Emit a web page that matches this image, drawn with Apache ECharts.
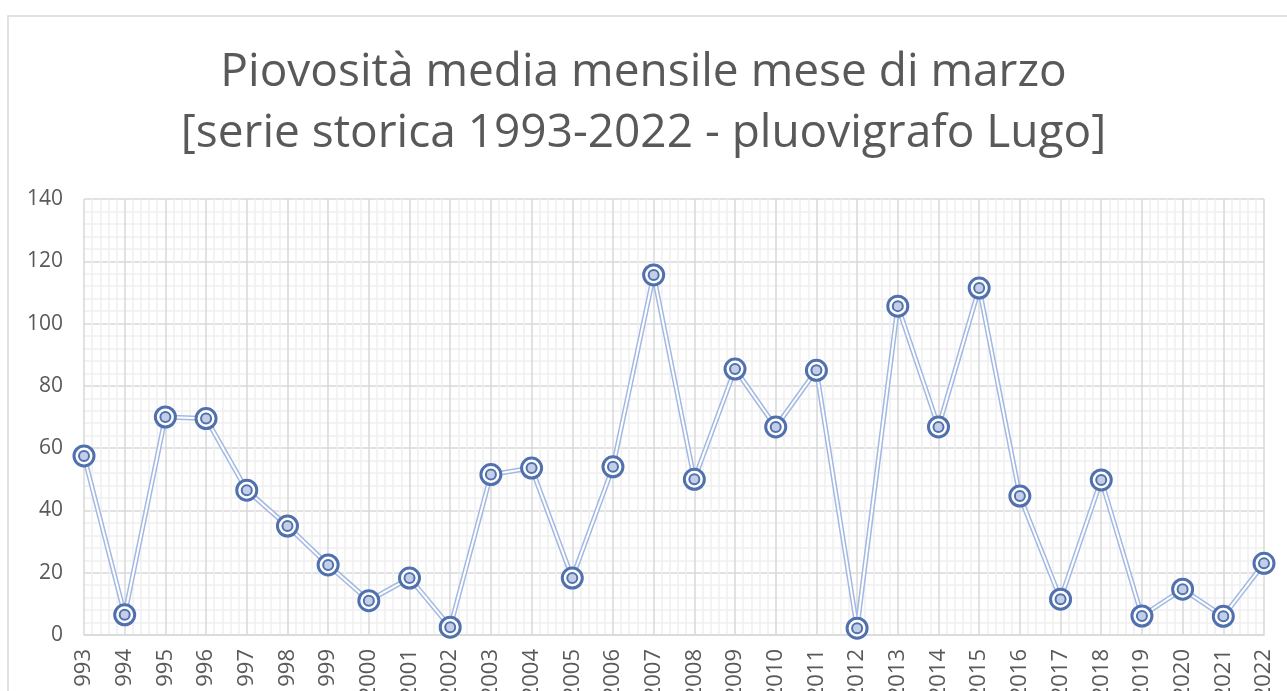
<!DOCTYPE html>
<html>
<head>
<meta charset="utf-8">
<script src="https://cdn.jsdelivr.net/npm/echarts@6/dist/echarts.min.js"></script>
<style>
  html, body { margin: 0; padding: 0; background: #fff; }
  #main { width: 1287px; height: 691px; }
</style>
</head>
<body>
<div id="main"></div>
<script>
// anni della serie storica
const years = ['1993', '1994', '1995', '1996', '1997', '1998', '1999', '2000', '2001', '2002',
  '2003', '2004', '2005', '2006', '2007', '2008', '2009', '2010', '2011', '2012',
  '2013', '2014', '2015', '2016', '2017', '2018', '2019', '2020', '2021', '2022']
// piovosità di marzo (mm)
const rain = [57.5, 6.5, 70, 69.5, 46.5, 35, 22.5, 11, 18.3, 2.5,
  51.5, 53.6, 18.3, 54, 115.6, 50, 85.4, 66.8, 85, 2.2,
  105.6, 66.8, 111.4, 44.6, 11.5, 49.8, 6.1, 14.7, 6, 23]
const titleLines = ['Piovosità media mensile mese di marzo', '[serie storica 1993-2022 - pluovigrafo Lugo]']

const myChart = echarts.init(document.querySelector('#main'))

const grey = '#595959'
const font = '"Open Sans", "Noto Sans", sans-serif'

myChart.setOption({
  animation: false,
  // cornice esterna
  graphic: [
    {
      type: 'rect',
      shape: { x: 8, y: 16, width: 1300, height: 700 },
      style: { fill: 'none', stroke: '#d9d9d9', lineWidth: 1.5 }
    }
  ],
  title: {
    text: titleLines.join('\n'),
    left: 'center',
    top: 37,
    textStyle: {
      fontFamily: font,
      fontWeight: 'normal',
      fontSize: 46,
      lineHeight: 61,
      color: grey
    }
  },
  // le etichette dell'asse x escono dal bordo in basso come nell'originale
  grid: { left: 84, right: 23, top: 199, bottom: 56, containLabel: false, outerBoundsMode: 'none' },
  xAxis: [
    {
      type: 'category',
      data: years,
      boundaryGap: false,
      axisLine: { lineStyle: { color: '#d9d9d9', width: 1.5 } },
      axisTick: { show: false },
      splitLine: { show: false },
      axisLabel: {
        rotate: 90,
        interval: 0,
        margin: 14,
        fontFamily: font,
        fontSize: 22,
        color: grey
      }
    },
    // asse nascosto solo per la griglia verticale con linee secondarie
    {
      type: 'value',
      min: 0,
      max: years.length - 1,
      interval: 1,
      position: 'bottom',
      axisLine: { show: false },
      axisTick: { show: false },
      axisLabel: { show: false },
      splitLine: { show: true, lineStyle: { color: '#d9d9d9', width: 1.5 } },
      minorTick: { show: false, splitNumber: 5 },
      minorSplitLine: { show: true, lineStyle: { color: '#efefef', width: 1.5 } }
    }
  ],
  yAxis: {
    type: 'value',
    min: 0,
    max: 140,
    interval: 20,
    axisLine: { show: false },
    axisTick: { show: false },
    axisLabel: { fontFamily: font, fontSize: 21, color: grey, margin: 21 },
    splitLine: { lineStyle: { color: '#d9d9d9', width: 1.5 } },
    minorTick: { show: false, splitNumber: 5 },
    minorSplitLine: { show: true, lineStyle: { color: '#efefef', width: 1.5 } }
  },
  series: [
    // linea doppia: tratto azzurro largo
    {
      type: 'line',
      data: rain,
      symbol: 'none',
      lineStyle: { color: '#a3b8e2', width: 5 },
      z: 2
    },
    // ... con il centro bianco
    {
      type: 'line',
      data: rain,
      symbol: 'none',
      lineStyle: { color: '#ffffff', width: 2 },
      z: 3
    },
    // cerchio esterno del marcatore
    {
      type: 'line',
      data: rain,
      lineStyle: { width: 0, opacity: 0 },
      symbol: 'circle',
      symbolSize: 20,
      showAllSymbol: true,
      itemStyle: { color: '#ffffff', borderColor: '#5070ae', borderWidth: 3 },
      z: 4
    },
    // cerchio interno
    {
      type: 'line',
      data: rain,
      lineStyle: { width: 0, opacity: 0 },
      symbol: 'circle',
      symbolSize: 10,
      showAllSymbol: true,
      itemStyle: { color: '#c3cfe8', borderColor: '#5070ae', borderWidth: 2 },
      z: 5
    }
  ]
})
</script>
</body>
</html>
